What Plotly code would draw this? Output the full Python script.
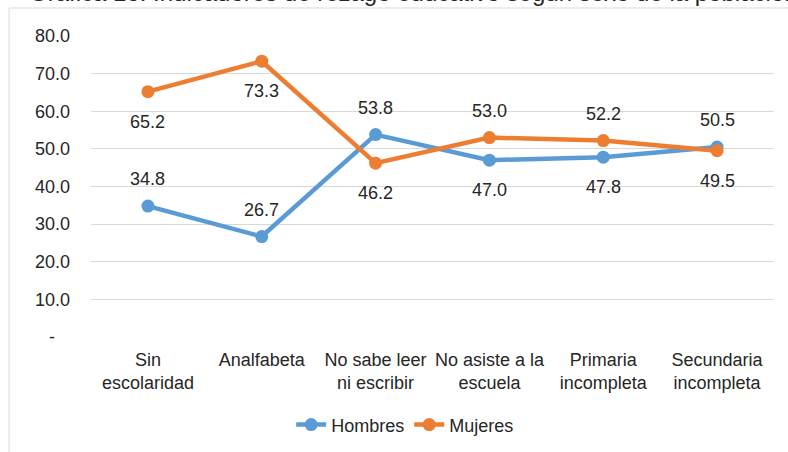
import plotly.graph_objects as go

categories = ["Sin<br>escolaridad", "Analfabeta", "No sabe leer<br>ni escribir",
              "No asiste a la<br>escuela", "Primaria<br>incompleta", "Secundaria<br>incompleta"]
hombres = [34.8, 26.7, 53.8, 47.0, 47.8, 50.5]
mujeres = [65.2, 73.3, 46.2, 53.0, 52.2, 49.5]
# label placement: +1 above point, -1 below point
hombres_pos = [1, 1, 1, -1, -1, 1]
mujeres_pos = [-1, -1, -1, 1, 1, -1]
tick_vals = [0, 10, 20, 30, 40, 50, 60, 70, 80]
tick_text = ["-\u00a0\u00a0\u00a0", "10.0", "20.0", "30.0", "40.0", "50.0", "60.0", "70.0", "80.0"]
title_text = "Gráfica 16. Indicadores de rezago educativo según sexo de la población"

BLUE = "#5B9BD5"
ORANGE = "#ED7D31"
FONT = "Liberation Sans, Arial, sans-serif"

fig = go.Figure()
fig.add_trace(go.Scatter(x=categories, y=hombres, name="Hombres", mode="lines+markers",
                         line=dict(color=BLUE, width=4.5),
                         marker=dict(color=BLUE, size=13)))
fig.add_trace(go.Scatter(x=categories, y=mujeres, name="Mujeres", mode="lines+markers",
                         line=dict(color=ORANGE, width=4.5),
                         marker=dict(color=ORANGE, size=13)))

annotations = []
for series, pos in ((hombres, hombres_pos), (mujeres, mujeres_pos)):
    for c, v, p in zip(categories, series, pos):
        annotations.append(dict(x=c, y=v, xref="x", yref="y", text=f"{v:.1f}",
                                showarrow=False, yshift=27 if p > 0 else -30,
                                font=dict(size=18, color="#262626", family=FONT)))
# title, partly cut off at the top edge as in the reference
annotations.append(dict(x=(27 - 91) / 683, y=1 + 27.5 / 301, xref="paper", yref="paper",
                        xanchor="left", yanchor="bottom", text=title_text, showarrow=False,
                        font=dict(size=24, color="#262626", family=FONT)))

fig.update_layout(
    width=788, height=452,
    margin=dict(l=91, r=14, t=36, b=115, autoexpand=False),
    paper_bgcolor="white", plot_bgcolor="white",
    font=dict(family=FONT, size=18, color="#262626"),
    showlegend=True,
    legend=dict(orientation="h", x=0.46, xanchor="center", y=-0.292, yanchor="middle",
                font=dict(size=18, color="#262626"), bgcolor="rgba(0,0,0,0)"),
    annotations=annotations,
    shapes=[dict(type="rect", xref="paper", yref="paper", x0=-0.12, x1=1.2,
                 y0=-0.6, y1=1 + 28/301, line=dict(color="#d9d9d9", width=1),
                 fillcolor="rgba(0,0,0,0)", layer="below")],
)
fig.update_xaxes(type="category", range=[-0.5, 5.5], showgrid=False, showline=False,
                 zeroline=False, ticks="", tickfont=dict(size=18), fixedrange=True,
                 automargin=False, ticklabelstandoff=10)
fig.update_yaxes(range=[0, 80], tickvals=tick_vals, ticktext=tick_text,
                 showgrid=True, gridcolor="#d9d9d9", gridwidth=1, zeroline=False,
                 showline=False, ticks="", ticklabelstandoff=20, tickfont=dict(size=18),
                 automargin=False, fixedrange=True)

fig.write_html("out.html", config={"displayModeBar": False},
               post_script="document.body.style.margin='0';document.body.style.overflow='hidden';")
